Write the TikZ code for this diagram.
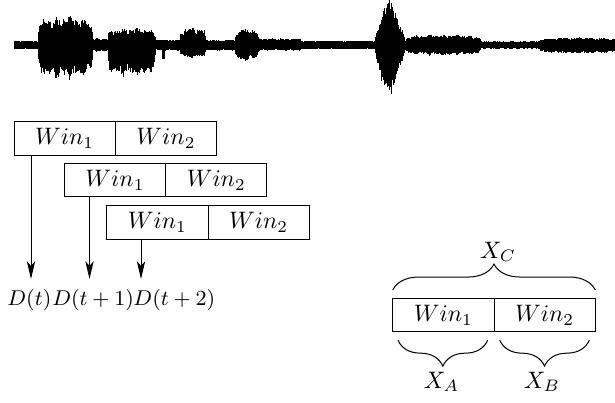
\documentclass[tikz,border=0pt]{standalone}
\usetikzlibrary{arrows.meta,decorations.pathreplacing,calc}
\begin{document}
\begin{tikzpicture}[x=0.42pt,y=-0.42pt,
  win/.style={draw,line width=0.42pt,minimum width=42.55pt,minimum height=14.1pt,inner sep=0pt,outer sep=0pt},
  arr/.style={line width=0.42pt,-{Stealth[length=7.5pt,width=3.5pt,inset=2pt]}},
  brc/.style={line width=0.42pt,decorate,decoration={brace,amplitude=10.9pt}},
  brcm/.style={line width=0.42pt,decorate,decoration={brace,mirror,amplitude=10.9pt}},
  wave/.style={line width=0.4pt,black},
  lab/.style={inner sep=0pt,font=\small}]
\useasboundingbox (0,0) rectangle (615,402);
% waveform
\pgfmathsetseed{4711}
\foreach \xs/\xe/\up/\dn/\kind in {14/38/2.5/2.5/0,38/92/28/34/1,92/108/5/5/0,108/155/16/32/1,155/162/3.5/4/0,162/164/3/14/0,164/180/3.5/4/0,180/205/17/12/1,205/235/3.5/4/0,235/258/16/15/1,258/300/5/4/0,300/375/2.5/2.5/0,375/406/47/53/2,406/480/9/9/1,480/540/2/2/0,540/615/6/7/1}{
  \pgfmathtruncatemacro\n{(\xe-\xs)/0.5}
  \foreach \i in {0,...,\n}{
    \pgfmathsetmacro\x{\xs+0.5*\i}
    \pgfmathsetmacro\t{(\x-\xs)/(\xe-\xs)}
    \pgfmathsetmacro\env{\kind==0 ? 1 : (\kind==1 ? 0.5+0.5*sqrt(sqrt(sin(180*\t))) : max(0.06,(\x<392 ? min(1,(\x-374)/10) : 1-(\x-392)/14)))}
    \pgfmathsetmacro\md{0.86+0.14*sin(40*mod(\x,72))*cos(13*\x)}
    \pgfmathsetmacro\a{2+\up*\env*\md*(0.65+0.35*rnd)}
    \pgfmathsetmacro\b{2+\dn*\env*\md*(0.65+0.35*rnd)}
    \draw[wave] (\x,45-\a) -- (\x,45+\b);
  }
}
% sliding windows
\node[win,anchor=north west] (b1a) at (14,121.7) {$Win_1$};
\node[win,anchor=west] (b1b) at (b1a.east) {$Win_2$};
\node[win,anchor=north west] (b2a) at (64.3,163.3) {$Win_1$};
\node[win,anchor=west] (b2b) at (b2a.east) {$Win_2$};
\node[win,anchor=north west] (b3a) at (106.7,205.7) {$Win_1$};
\node[win,anchor=west] (b3b) at (b3a.east) {$Win_2$};
\coordinate (e1) at (31,279);
\coordinate (e2) at (89.5,279);
\coordinate (e3) at (141,279);
\draw[arr] (b1a.south -| e1) -- (e1);
\draw[arr] (b2a.south -| e2) -- (e2);
\draw[arr] (b3a.south -| e3) -- (e3);
\node[lab,anchor=base west] (d1) at (7,305) {$D(t)$};
\node[lab,anchor=base west] (d2) at (d1.base east) {$D(t+1)$};
\node[lab,anchor=base west] (d3) at (133,305) {$D(t+2)$};
% right window with braces
\node[win,anchor=north west] (ra) at (392.7,298.3) {$Win_1$};
\node[win,anchor=west] (rb) at (ra.east) {$Win_2$};
\draw[brc] ($(ra.north west)+(0,-8.3)$) -- ($(rb.north east)+(0,-8.3)$);
\draw[brcm] ($(ra.south west)+(5.3,8.3)$) -- ($(ra.south east)+(-6.3,8.3)$);
\draw[brcm] ($(rb.south west)+(5.7,8.3)$) -- ($(rb.south east)+(-6,8.3)$);
\node[anchor=base] (xc) at (498,258.3) {$X_C$};
\node[anchor=base] (xa) at (441.5,388.3) {$X_A$};
\node[anchor=base] (xb) at (542,388.3) {$X_B$};
\end{tikzpicture}
\end{document}
